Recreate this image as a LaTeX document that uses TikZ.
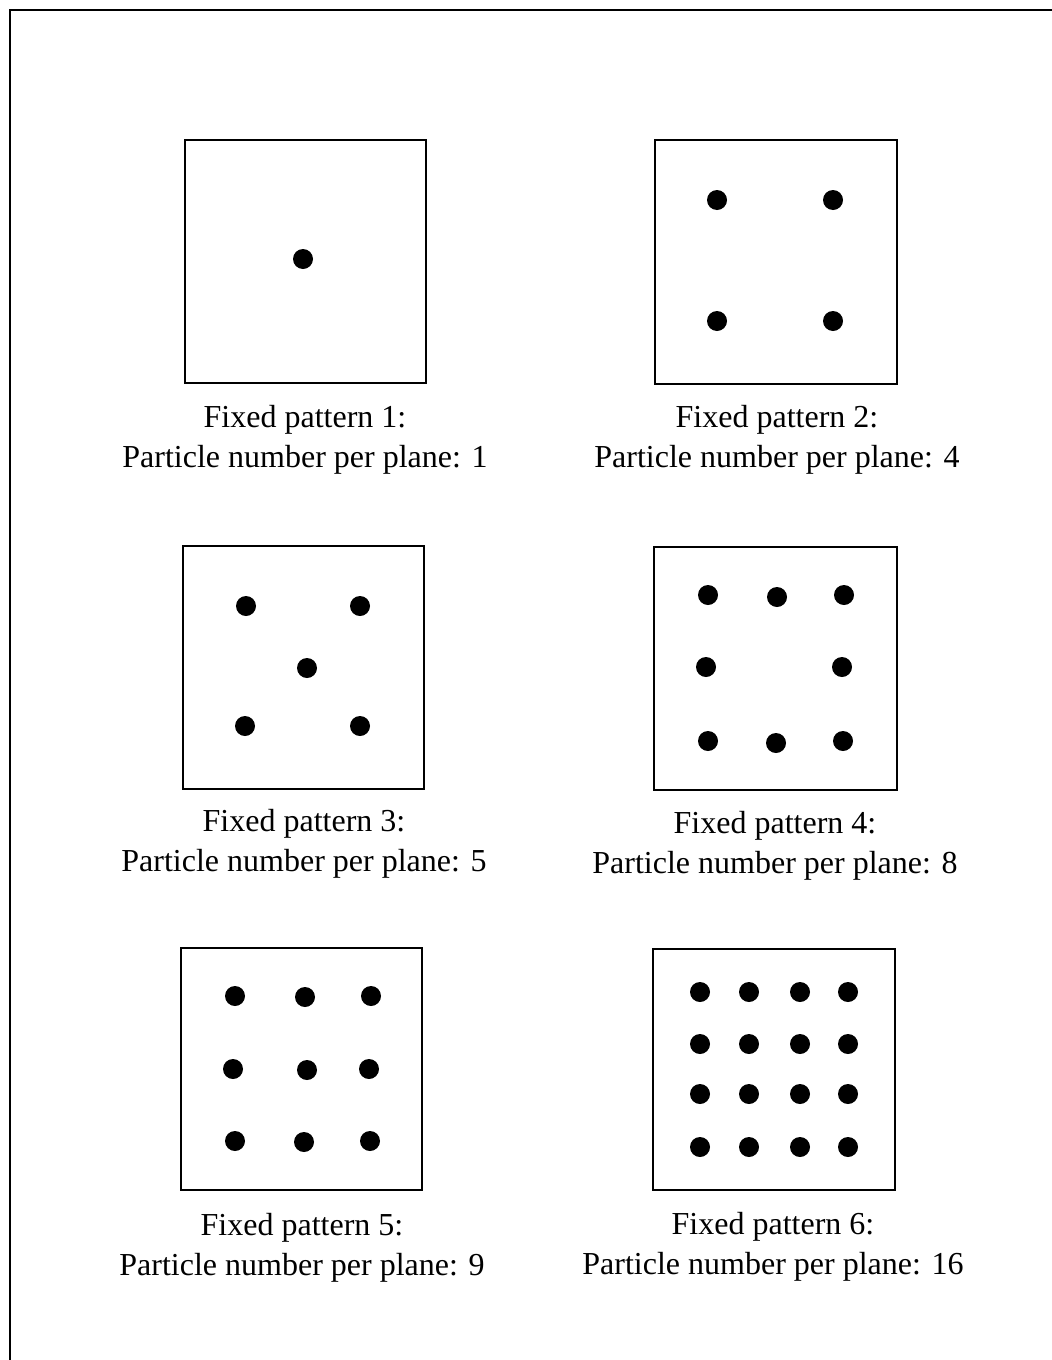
\documentclass[tikz,border=0pt]{standalone}
\usepackage{fontspec}
\setmainfont{Liberation Serif}
\begin{document}
\begin{tikzpicture}[x=1pt,y=-1pt,
  frame/.style={line width=2.6pt},
  pbox/.style={line width=2.6pt},
  dot/.style={fill=black},
  captxt/.style={anchor=base,inner sep=0pt,font=\fontsize{32}{40}\selectfont}]
\useasboundingbox (0,0) rectangle (1052,1360);
% outer frame
\draw[frame] (10,1362) -- (10,10) -- (1054,10);
% boxes
\draw[pbox] (185,140) rectangle (426,383);
\draw[pbox] (655,140) rectangle (897,384);
\draw[pbox] (183,546) rectangle (424,789);
\draw[pbox] (654,547) rectangle (897,790);
\draw[pbox] (181,948) rectangle (422,1190);
\draw[pbox] (653,949) rectangle (895,1190);
% pattern 1
\fill[dot] (303,259) circle (10);
% pattern 2
\foreach \p in {(717,200),(833,200),(717,321),(833,321)} \fill[dot] \p circle (10);
% pattern 3
\foreach \p in {(246,606),(360,606),(307,668),(245,726),(360,726)} \fill[dot] \p circle (10);
% pattern 4
\foreach \p in {(708,595),(777,597),(844,595),(706,667),(842,667),(708,741),(776,743),(843,741)} \fill[dot] \p circle (10);
% pattern 5
\foreach \p in {(235,996),(305,997),(371,996),(233,1069),(307,1070),(369,1069),(235,1141),(304,1142),(370,1141)} \fill[dot] \p circle (10);
% pattern 6
\foreach \x in {700,749,800,848} \foreach \y in {992,1044,1094,1147} \fill[dot] (\x,\y) circle (10);
% captions
\node[captxt] (c1a) at (305,427) {Fixed pattern 1:};
\node[captxt] (c1b) at (305,467) {Particle number per plane: 1};
\node[captxt] (c2a) at (777,427) {Fixed pattern 2:};
\node[captxt] (c2b) at (777,467) {Particle number per plane: 4};
\node[captxt] (c3a) at (304,831) {Fixed pattern 3:};
\node[captxt] (c3b) at (304,871) {Particle number per plane: 5};
\node[captxt] (c4a) at (775,833) {Fixed pattern 4:};
\node[captxt] (c4b) at (775,873) {Particle number per plane: 8};
\node[captxt] (c5a) at (302,1235) {Fixed pattern 5:};
\node[captxt] (c5b) at (302,1275) {Particle number per plane: 9};
\node[captxt] (c6a) at (773,1234) {Fixed pattern 6:};
\node[captxt] (c6b) at (773,1274) {Particle number per plane: 16};
\end{tikzpicture}
\end{document}
